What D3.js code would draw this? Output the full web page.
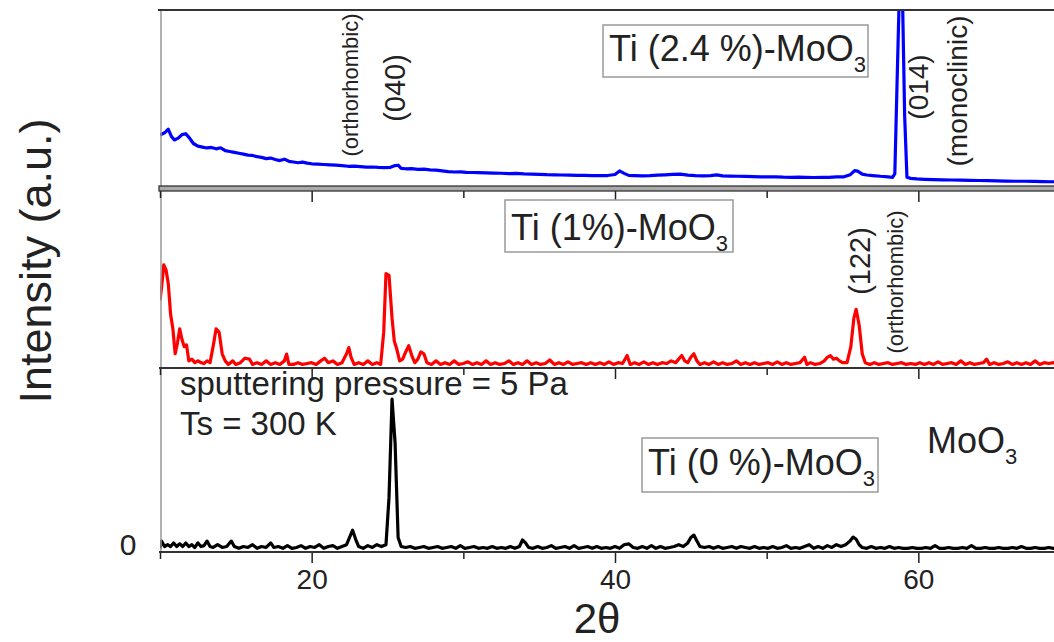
<!DOCTYPE html>
<html>
<head>
<meta charset="utf-8">
<script src="https://cdn.jsdelivr.net/npm/d3@7"></script>
<style>
html,body{margin:0;padding:0;background:#fff;overflow:hidden;}
svg{display:block;font-family:"Liberation Sans",Arial,sans-serif;}
</style>
</head>
<body>
<svg id="chart" width="1054" height="642"></svg>
<script>
// ---- data (2θ in degrees, intensity in arbitrary units 0-100 per panel) ----
const blueAngles = [10.0,10.3,10.55,10.75,10.95,11.2,11.45,11.7,11.95,12.2,12.5,12.8,13.1,13.4,13.7,14.0,14.3,14.6,14.9,15.2,15.5,15.8,16.1,16.4,16.7,17.0,17.3,17.6,17.9,18.2,18.5,18.8,19.1,19.4,19.7,20.0,20.4,20.8,21.2,21.6,22.0,22.4,22.8,23.2,23.6,24.0,24.4,24.8,25.2,25.5,25.7,25.9,26.2,26.6,27.0,27.4,27.8,28.2,28.6,29.0,29.4,29.8,30.2,30.6,31.0,31.5,32.0,32.5,33.0,33.5,34.0,34.5,35.0,35.5,36.0,36.5,37.0,37.5,38.0,38.5,39.0,39.5,40.0,40.3,40.6,40.9,41.3,41.8,42.3,42.8,43.3,43.8,44.3,44.8,45.3,45.8,46.3,46.7,47.1,47.6,48.1,48.6,49.1,49.6,50.1,50.6,51.1,51.6,52.1,52.6,53.1,53.6,54.1,54.6,55.1,55.5,55.8,56.0,56.3,56.6,57.0,57.5,58.0,58.3,58.45,58.6,58.75,58.95,59.1,59.25,59.5,59.9,60.4,61.0,61.6,62.2,62.8,63.4,64.0,64.6,65.2,65.8,66.4,67.0,67.6,68.2,68.8,69.4,70.0];
const blueValues = [29.8,31,33,29,27,28,30,30.5,28,25,23.5,23,22.5,22.8,22,22.6,21,20.5,20,19.5,19,18.5,18.3,17.6,17.2,16.5,16.8,16,15.4,16.2,15,14.6,14.2,14.5,14,13.6,13.4,13.2,13,12.8,12.6,12.2,12.3,12,11.7,11.8,11.6,11.5,11.6,12.6,12.8,11,10.8,10.9,10.5,10.6,10.2,10,9.6,9.2,9,9.1,8.8,8.7,8.6,8.5,8.4,8.3,8.1,8.2,7.9,7.8,7.7,7.5,7.4,7.3,7.2,7.1,7.1,7.0,6.9,7.0,7.6,9.6,8.2,7.1,7.0,6.8,6.9,7.2,7.4,7.6,7.8,7.2,6.9,6.8,7.0,7.4,6.8,6.7,6.6,6.5,6.4,6.3,6.2,6.3,6.1,6.0,6.1,6.0,5.9,6.0,6.0,6.2,6.3,7.4,9.8,9.5,7.8,7.3,7.0,6.6,6.3,6.0,8,60,110,110,40,6,5.4,5.1,4.9,4.7,4.6,4.5,4.4,4.3,4.2,4.1,4.0,3.9,3.8,3.8,3.7,3.6,3.5,3.5,3.4];

const redAngles = [10.0,10.1,10.25,10.4,10.55,10.7,10.85,11.0,11.15,11.3,11.45,11.6,11.75,11.9,12.1,12.3,12.5,12.7,12.9,13.1,13.3,13.5,13.7,13.9,14.1,14.3,14.5,14.8,15.0,15.3,15.6,15.9,16.1,16.4,16.7,17.0,17.3,17.6,17.9,18.2,18.35,18.5,18.8,19.1,19.4,19.7,20.0,20.3,20.6,20.85,21.1,21.4,21.7,22.0,22.3,22.45,22.6,22.8,23.1,23.4,23.7,24.0,24.3,24.55,24.75,24.9,25.1,25.3,25.45,25.6,25.8,26.0,26.2,26.4,26.6,26.8,27.0,27.2,27.4,27.6,27.9,28.2,28.5,28.8,29.1,29.4,29.7,30.0,30.3,30.6,30.9,31.2,31.5,31.8,32.1,32.4,32.7,33.0,33.3,33.6,33.9,34.2,34.5,34.8,35.1,35.4,35.7,36.0,36.3,36.6,36.9,37.2,37.5,37.8,38.1,38.4,38.7,39.0,39.3,39.6,39.9,40.2,40.5,40.8,41.0,41.3,41.6,41.9,42.2,42.5,42.8,43.1,43.4,43.7,44.0,44.2,44.4,44.6,44.8,45.0,45.2,45.4,45.6,45.9,46.2,46.5,46.8,47.1,47.4,47.7,48.0,48.3,48.6,48.9,49.2,49.5,49.8,50.1,50.4,50.7,51.0,51.3,51.6,51.9,52.2,52.5,52.65,52.9,53.2,53.5,53.8,54.0,54.2,54.4,54.6,54.8,55.0,55.3,55.55,55.75,55.9,56.1,56.3,56.5,56.8,57.1,57.4,57.7,58.0,58.3,58.6,58.9,59.2,59.5,59.8,60.1,60.4,60.7,61.0,61.3,61.6,61.9,62.2,62.5,62.8,63.1,63.4,63.7,64.0,64.3,64.5,64.7,65.0,65.3,65.6,65.9,66.2,66.5,66.8,67.1,67.4,67.7,68.0,68.3,68.6,68.9,69.2,69.5,69.8];
const redValues = [38,45,58,55,47,30,22,8,14,22,16,12,13,4,5,3,4,3,2.5,4,3,12,22,20,8,4,2,4,2,3,5.5,5,2,3,2,4,2,3,2,4,7.8,2,2,3,2,2.5,3,2,4,5.5,3,4,2,3,8,11.5,6,2,3,2,4,2,3,2,20,53,52,28,15,11,4,5,9,12.5,7,3,5,9,8,3,2,4,2,3,2,4,2,2.5,3.5,2,3,2,4,2,3,2,2.5,4,2,3,2,4,2,3,2,2.5,4.5,2,3,2,3.5,2,2.5,3,2,3,2,3,2,3.5,2,3,2.5,7,2,3,2,3.5,2,3,2,3,2.5,4,3,5,7,4,3,6,8,4,2,3,2,3.5,2,3,2,2.5,4,2,3,2,3,2,2.5,3,2,3.5,2,3,2,2.5,3,6,2,3,2,2.5,4,6,7,5,5.5,4,3,3,12,28,33,24,8,3,2,3,2,2.5,3,2,2.5,3,2,2.5,2,3,2,3,2,3.5,2,2.5,3,2,4,2,3,2,2.5,3,5,2,3,2,2.5,3.5,2,3,2,3,2,4,2,3,2.5,3,2,3,2];

const blackAngles = [10.0,10.1,10.3,10.5,10.7,10.9,11.1,11.3,11.5,11.7,11.9,12.1,12.3,12.5,12.7,12.9,13.1,13.3,13.5,13.8,14.1,14.4,14.7,14.9,15.2,15.5,15.8,16.1,16.4,16.7,17.0,17.3,17.5,17.8,18.1,18.4,18.7,19.0,19.3,19.6,19.9,20.2,20.5,20.8,21.1,21.4,21.7,22.0,22.3,22.5,22.7,22.9,23.1,23.4,23.7,24.0,24.3,24.6,24.9,25.1,25.3,25.5,25.7,25.9,26.2,26.5,26.8,27.1,27.4,27.7,28.0,28.3,28.6,28.9,29.2,29.5,29.8,30.1,30.4,30.7,31.0,31.3,31.6,31.9,32.2,32.5,32.8,33.1,33.4,33.7,33.9,34.1,34.3,34.6,34.9,35.2,35.5,35.8,36.1,36.4,36.7,37.0,37.3,37.6,37.9,38.2,38.5,38.8,39.1,39.4,39.7,40.0,40.3,40.6,40.9,41.2,41.5,41.8,42.1,42.4,42.7,43.0,43.3,43.6,43.9,44.2,44.5,44.8,45.0,45.2,45.4,45.6,45.9,46.2,46.5,46.8,47.1,47.4,47.7,48.0,48.3,48.6,48.9,49.2,49.5,49.8,50.1,50.4,50.7,51.0,51.3,51.6,51.9,52.2,52.5,52.8,53.1,53.4,53.7,54.0,54.3,54.6,54.9,55.2,55.5,55.7,55.9,56.1,56.3,56.6,56.9,57.2,57.5,57.8,58.1,58.4,58.7,59.0,59.3,59.6,59.9,60.2,60.5,60.8,61.1,61.4,61.7,62.0,62.3,62.6,62.9,63.2,63.5,63.8,64.1,64.4,64.7,65.0,65.3,65.6,65.9,66.2,66.5,66.8,67.1,67.4,67.7,68.0,68.3,68.6,68.9,69.2,69.5,69.8];
const blackValues = [2,6,3,4,3,5,3,4.5,3,5,3,4,2.5,5,3,3.5,6,3,2.5,4,2.5,3,6,3,2,3,2.5,4,2,3,2.5,5,2.5,3,2,3.5,2,2.5,3.5,2,3,2.5,4,2,3,3.5,2,3,4,8,12,7,3,2,3.5,2.5,4,3,4,30,84,60,8,3,2.5,3,2,2.5,3,2,2.5,3,2,2.5,3,2,3.5,2,2.5,3,2,2.5,2,3,2,2.5,2,3,2,3,6.6,5,2.5,2,3,2,2.5,3.5,2,2.5,3,2,3.5,2,2.5,3,2,3,2,2.5,2,3,2,4,4.5,2.5,2,3,2,3.5,2,3,2,2.5,3,4,3,5,8,9.3,6,3,2.5,3,2,3,2,2.5,3,2,3,2.5,2,3,2,2.5,2,3,2,2.5,3.5,2,2.5,2,3,4,2,3,2,3.5,2.5,4,3,4,6,8.2,7,4,2.5,2,3,2,2.5,2,3,2,2.5,2,2,2.5,2,2,2.5,2,3.5,2,2,2.5,2,2,2.5,2,3.5,2,2,2.5,2,2,2.5,2,2,2.5,2,3,2,2,2.5,2,2,2.5,2,2,2.5,2];

const majorTicks = [20, 40, 60];
const minorTicks = [10, 30, 50, 70];
const tickLabels = ["20", "40", "60"];
const sampleLabels = ["Ti (2.4 %)-MoO", "Ti (1%)-MoO", "Ti (0 %)-MoO"];

// ---- drawing ----
const svg = d3.select("#chart");
const x = d3.scaleLinear().domain([10, 70]).range([160, 1070]);
const yTop = d3.scaleLinear().domain([0, 100]).range([188, 10]);
const yMid = d3.scaleLinear().domain([0, 100]).range([368, 190]);
const yBot = d3.scaleLinear().domain([0, 100]).range([552, 370]);

const defs = svg.append("defs");
function clip(id, y0, y1) {
  defs.append("clipPath").attr("id", id).append("rect")
    .attr("x", 160).attr("y", y0).attr("width", 1000).attr("height", y1 - y0);
}
clip("cTop", 11, 186);
clip("cMid", 192, 368);
clip("cBot", 370, 552);

function series(angles, values, y, color, clipId) {
  const pts = angles.map((a, i) => [a, values[i]]);
  svg.append("path")
    .attr("clip-path", `url(#${clipId})`)
    .attr("d", d3.line().x(d => x(d[0])).y(d => y(d[1]))(pts))
    .attr("fill", "none").attr("stroke", color)
    .attr("stroke-width", 3.2).attr("stroke-linejoin", "round");
}
series(blueAngles, blueValues, yTop, "#0000ff", "cTop");
series(redAngles, redValues, yMid, "#ff0000", "cMid");
series(blackAngles, blackValues, yBot, "#000000", "cBot");

// left axis
svg.append("line").attr("x1", 161).attr("x2", 161).attr("y1", 10).attr("y2", 553)
  .attr("stroke", "#999").attr("stroke-width", 1.5);
// top frame
svg.append("line").attr("x1", 158).attr("x2", 1054).attr("y1", 10).attr("y2", 10)
  .attr("stroke", "#333").attr("stroke-width", 2);

function hAxis(yPos, labels, band) {
  const g = svg.append("g").attr("transform", `translate(0,${yPos})`);
  const ax = d3.axisBottom(x).tickValues(majorTicks).tickSize(11).tickSizeOuter(0)
    .tickFormat((d, i) => labels ? tickLabels[i] : "");
  g.call(ax);
  g.select(".domain").remove();
  g.selectAll(".tick line").attr("stroke", "#222").attr("stroke-width", 1.5);
  g.selectAll(".tick text").attr("font-size", 28).attr("fill", "#222").attr("dy", 23)
    .attr("font-family", "'Liberation Sans',Arial,sans-serif");
  const gm = svg.append("g").attr("transform", `translate(0,${yPos})`);
  gm.call(d3.axisBottom(x).tickValues(minorTicks).tickSize(7).tickSizeOuter(0).tickFormat(""));
  gm.select(".domain").remove();
  gm.selectAll(".tick line").attr("stroke", "#222").attr("stroke-width", 1.5);
  if (band) {
    svg.append("rect").attr("x", 159).attr("y", yPos - 5).attr("width", 900).attr("height", 5)
      .attr("fill", "#aaa").attr("stroke", "#333").attr("stroke-width", 1.3);
  } else {
    svg.append("line").attr("x1", 159).attr("x2", 1054).attr("y1", yPos).attr("y2", yPos)
      .attr("stroke", "#333").attr("stroke-width", 2);
  }
}
hAxis(191, false, true);
hAxis(368, false, false);
hAxis(552, true, false);

// y tick label
svg.append("text").attr("x", 128).attr("y", 555).attr("text-anchor", "middle")
  .attr("font-size", 30).attr("fill", "#222").text("0");

// axis titles
svg.append("text").attr("transform", "translate(35,261) rotate(-90)")
  .attr("text-anchor", "middle").attr("dominant-baseline", "central")
  .attr("font-size", 45).attr("fill", "#222").text("Intensity (a.u.)");
svg.append("text").attr("x", 597).attr("y", 633).attr("text-anchor", "middle")
  .attr("font-size", 42).attr("fill", "#222")
  .text("2θ");

// rotated peak annotations
function vlabel(cx, cy, size, txt) {
  svg.append("text").attr("transform", `translate(${cx},${cy}) rotate(-90)`)
    .attr("text-anchor", "middle").attr("dominant-baseline", "central")
    .attr("font-size", size).attr("fill", "#222").text(txt);
}
vlabel(350, 85, 22, "(orthorhombic)");
vlabel(395, 88, 29, "(040)");
vlabel(918, 87, 28, "(014)");
vlabel(957, 91, 28, "(monoclinic)");
vlabel(860, 261, 29, "(122)");
vlabel(895, 282, 22, "(orthorhombic)");

// boxed sample labels
function boxLabel(x0, y0, w, h, tx, ty, txt) {
  svg.append("rect").attr("x", x0).attr("y", y0).attr("width", w).attr("height", h)
    .attr("fill", "#fff").attr("stroke", "#999").attr("stroke-width", 1.5);
  const t = svg.append("text").attr("x", tx).attr("y", ty).attr("font-size", 36).attr("fill", "#222");
  t.append("tspan").text(txt);
  t.append("tspan").attr("font-size", 22).attr("dy", 11).text("3");
}
boxLabel(603, 25, 265, 52, 609, 61, sampleLabels[0]);
boxLabel(505, 200, 228, 52, 511, 240, sampleLabels[1]);
boxLabel(642, 438, 236, 54, 648, 475, sampleLabels[2]);

// MoO3
const m = svg.append("text").attr("x", 927).attr("y", 453).attr("font-size", 36).attr("fill", "#222");
m.append("tspan").text("MoO");
m.append("tspan").attr("font-size", 22).attr("dy", 11).text("3");

// conditions
svg.append("text").attr("x", 180).attr("y", 395).attr("font-size", 33).attr("fill", "#222")
  .text("sputtering pressure = 5 Pa");
svg.append("text").attr("x", 180).attr("y", 435).attr("font-size", 33).attr("fill", "#222")
  .text("Ts = 300 K");
</script>
</body>
</html>
